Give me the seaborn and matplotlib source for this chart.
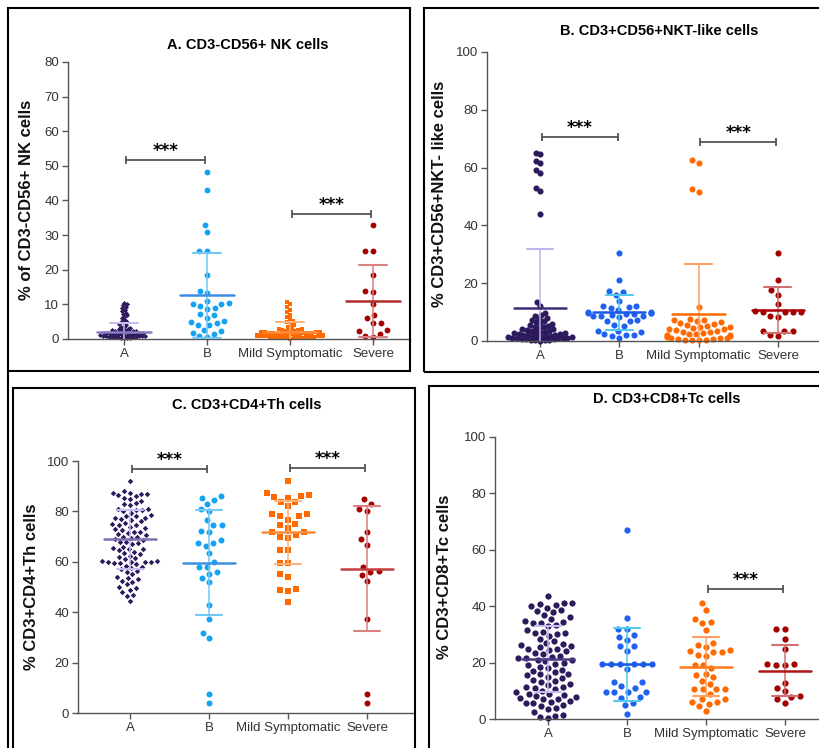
import warnings
warnings.filterwarnings("ignore")
import matplotlib
matplotlib.use("Agg")
import matplotlib.pyplot as plt
import seaborn as sns
from matplotlib.patches import Rectangle
from matplotlib.lines import Line2D
from matplotlib.markers import MarkerStyle
from matplotlib.transforms import Affine2D

sns.set_theme(style="ticks")
plt.rcParams['font.family'] = ['Liberation Sans', 'DejaVu Sans']

categories = ["A", "B", "Mild Symptomatic", "Severe"]

# ---------------- Panel A: CD3-CD56+ NK cells ----------------
nk_A = [10.5, 10.1, 9.7, 9.3, 8.9, 8.5, 8.0, 7.6, 7.2, 6.8, 6.4, 6.0, 5.6, 5.2, 4.8, 4.5,
        4.2, 3.9, 3.6, 3.4, 3.2, 3.0, 2.8, 2.7, 2.6, 2.5, 2.4, 2.3, 2.2, 2.1, 2.0, 2.0,
        1.9, 1.8, 1.8, 1.7, 1.6, 1.6, 1.5, 1.5, 1.4, 1.4, 1.3, 1.3, 1.2, 1.2, 1.1, 1.1,
        1.0, 1.0, 0.9, 0.9, 0.8, 0.8, 0.7, 0.7, 0.6, 0.6, 0.5, 0.5, 0.4, 0.4, 0.3, 0.2]
nk_B = [48.3, 42.9, 33.0, 31.0, 25.5, 25.5, 18.5, 14.0, 13.4, 11.0, 10.5, 10.2, 10.0,
        9.6, 9.0, 8.8, 7.2, 6.8, 6.0, 5.2, 4.8, 4.5, 4.0, 4.0, 2.5, 2.2, 1.8, 1.5, 0.8, 0.6]
nk_mild = [10.6, 10.0, 9.2, 8.5, 7.8, 7.0, 6.4, 5.8, 5.2, 4.8, 4.4, 4.0, 3.6, 3.2, 3.0,
           2.8, 2.6, 2.5, 2.4, 2.3, 2.2, 2.1, 2.0, 2.0, 1.9, 1.8, 1.8, 1.7, 1.6, 1.6,
           1.5, 1.5, 1.4, 1.4, 1.3, 1.3, 1.2, 1.2, 1.1, 1.1, 1.0, 1.0, 1.0, 0.9, 0.9,
           0.8, 0.8, 0.8, 0.7, 0.7, 0.6, 0.6, 0.5, 0.5, 0.4, 0.4, 0.3, 0.3, 0.2, 0.1]
nk_severe = [33.0, 25.5, 25.5, 18.5, 14.0, 13.5, 10.2, 7.0, 6.0, 4.5, 4.5, 2.5, 2.2,
             1.5, 0.8, 0.6]
nk_mean = [2.1, 12.6, 2.0, 10.9]
nk_sd = [2.5, 12.2, 2.8, 10.4]
nk_sig = [(0, 1, 51.8), (2, 3, 36.1)]

# ---------------- Panel B: CD3+CD56+NKT-like cells ----------------
nkt_A = [65.2, 64.7, 62.4, 61.5, 59.0, 58.1, 52.8, 52.0, 43.9, 13.4, 12.2, 9.6, 9.0, 8.5,
         8.0, 7.6, 7.2, 6.8, 6.5, 6.1, 5.8, 5.5, 5.2, 5.0, 4.7, 4.5, 4.2, 4.0, 3.8, 3.6,
         3.4, 3.2, 3.0, 3.0, 2.8, 2.6, 2.5, 2.4, 2.2, 2.1, 2.0, 1.9, 1.8, 1.7, 1.6, 1.5,
         1.4, 1.3, 1.2, 1.1, 1.0, 1.0, 0.9, 0.8, 0.7, 0.6, 0.5, 0.4, 0.3, 0.2, 0.1]
nkt_B = [30.5, 21.0, 17.3, 17.0, 16.0, 13.7, 12.2, 12.0, 11.8, 11.5, 10.8, 10.0, 9.9,
         9.8, 9.7, 9.6, 9.5, 9.4, 9.0, 8.8, 8.7, 8.5, 8.3, 7.2, 7.0, 6.8, 5.6, 5.2, 3.6,
         3.5, 3.2, 2.3, 2.2, 2.0, 1.8, 1.0]
nkt_mild = [62.5, 61.5, 52.5, 51.5, 11.8, 7.6, 7.4, 7.2, 7.0, 6.5, 6.2, 5.8, 5.5, 5.2,
            5.0, 4.8, 4.5, 4.2, 4.0, 3.8, 3.5, 3.2, 3.0, 2.8, 2.5, 2.4, 2.2, 2.0, 1.8,
            1.6, 1.4, 1.2, 1.0, 0.9, 0.8, 0.6, 0.5, 0.4, 0.3, 0.2]
nkt_severe = [30.5, 21.0, 17.5, 16.0, 12.8, 10.3, 10.2, 10.0, 10.1, 9.9, 8.5, 8.3, 3.6,
              3.5, 3.3, 2.2, 1.6]
nkt_mean = [11.3, 9.9, 9.4, 10.8]
nkt_sd = [20.5, 6.1, 17.3, 8.0]
nkt_sig = [(0, 1, 70.5), (2, 3, 69.0)]

# ---------------- Panel C: CD3+CD4+Th cells ----------------
th_A = [92.2, 88.0, 87.5, 87.5, 87.0, 87.0, 86.5, 86.0, 85.5, 85.0, 84.0, 83.5, 83.0,
        82.5, 81.0, 81.0, 80.5, 80.5, 80.0, 79.5, 78.5, 78.0, 78.0, 77.5, 77.5, 77.0,
        76.5, 76.0, 75.5, 75.0, 74.5, 74.5, 74.0, 73.5, 73.0, 72.5, 72.0, 72.0, 71.5,
        71.0, 70.5, 70.0, 70.0, 69.5, 69.0, 68.5, 68.0, 68.0, 67.5, 67.0, 66.0, 65.5,
        65.0, 65.0, 64.5, 64.0, 63.5, 63.0, 62.5, 62.0, 61.5, 61.0, 60.5, 60.5, 60.0,
        60.0, 60.0, 60.0, 59.5, 59.5, 59.0, 58.5, 58.0, 57.5, 57.0, 56.5, 56.0, 55.0,
        54.0, 53.5, 53.0, 52.5, 52.0, 51.0, 50.0, 49.5, 49.0, 48.0, 47.0, 46.5, 44.5]
th_B = [86.1, 85.3, 84.5, 83.0, 80.9, 80.0, 76.7, 74.6, 74.6, 72.2, 72.0, 68.5, 67.4,
        67.4, 66.4, 63.6, 59.9, 58.1, 58.1, 55.8, 55.1, 53.5, 52.0, 42.9, 37.2, 31.7,
        29.7, 7.5, 4.1]
th_mild = [92.2, 87.3, 86.4, 86.0, 85.7, 85.5, 83.7, 83.7, 82.0, 79.1, 79.1, 78.0, 78.0,
           76.7, 75.1, 74.6, 73.5, 71.7, 72.0, 70.6, 70.0, 69.5, 64.8, 64.8, 59.6, 59.6,
           55.2, 53.8, 49.3, 48.5, 49.0, 44.0]
th_severe = [84.9, 82.9, 80.0, 80.9, 71.8, 69.0, 66.5, 58.1, 56.4, 54.8, 55.9, 52.2,
             37.2, 7.5, 4.1]
th_mean = [68.9, 59.6, 71.7, 57.2]
th_sd = [11.6, 20.8, 12.6, 24.8]
th_sig = [(0, 1, 96.8), (2, 3, 97.4)]

# ---------------- Panel D: CD3+CD8+Tc cells ----------------
tc_A = [43.5, 41.2, 41.0, 40.8, 40.5, 40.0, 39.5, 38.5, 38.2, 38.0, 37.0, 36.0, 35.5,
        34.8, 34.5, 34.2, 34.0, 33.5, 33.0, 31.5, 31.0, 30.5, 30.5, 30.0, 29.5, 28.5,
        27.5, 27.0, 26.5, 26.2, 26.0, 25.5, 25.0, 25.0, 24.5, 24.0, 23.5, 23.0, 22.5,
        22.0, 21.5, 21.5, 21.0, 21.0, 20.5, 20.0, 19.5, 19.0, 18.5, 18.0, 17.5, 17.0,
        16.5, 16.0, 15.8, 15.5, 15.0, 14.5, 14.0, 13.5, 13.0, 12.5, 12.0, 11.5, 11.5,
        11.0, 10.5, 10.0, 9.5, 9.0, 8.8, 8.5, 8.0, 7.8, 7.5, 7.2, 7.0, 6.5, 6.0, 5.8,
        5.5, 5.0, 4.5, 4.0, 3.5, 2.5, 1.5, 1.2, 0.8, 0.2]
tc_B = [67.1, 35.7, 32.0, 32.0, 29.8, 29.0, 27.9, 25.9, 25.9, 24.0, 19.4, 19.4, 19.4,
        19.4, 19.4, 19.4, 17.7, 13.1, 13.1, 11.6, 11.1, 9.7, 9.7, 9.5, 9.5, 7.8, 7.5,
        5.7, 4.8, 1.9]
tc_mild = [41.1, 38.5, 35.6, 34.0, 34.5, 31.4, 26.2, 27.0, 25.5, 24.1, 24.6, 22.3, 23.8,
           23.8, 22.6, 19.0, 19.0, 18.2, 16.1, 15.6, 14.9, 13.4, 12.3, 10.5, 10.5, 10.5,
           10.5, 8.7, 7.2, 7.2, 6.1, 6.1, 5.4, 4.5, 2.7]
tc_severe = [32.0, 32.0, 28.5, 24.8, 19.3, 19.6, 19.3, 19.6, 12.9, 11.1, 9.9, 7.8, 8.0,
             7.0, 5.7]
tc_mean = [21.3, 19.4, 18.6, 17.1]
tc_sd = [11.6, 13.0, 10.5, 9.1]
tc_sig = [(2, 3, 46.2)]

titles = ["A. CD3-CD56+ NK cells", "B. CD3+CD56+NKT-like cells",
          "C. CD3+CD4+Th cells", "D. CD3+CD8+Tc cells"]
ylabels = ["% of CD3-CD56+ NK cells", "% CD3+CD56+NKT- like cells",
           "% CD3+CD4+Th cells", "% CD3+CD8+Tc cells"]

# ---------------- styling ----------------
W, H = 820, 748
fig = plt.figure(figsize=(W / 100, H / 100), dpi=100)
fig.patch.set_facecolor("white")

purple = "#2c1a5c"
sky = "#14a2f2"
royal = "#1f62f0"
orange = "#ff6a00"
darkred = "#a30000"


def add_axes_px(l, t, r, b):
    return fig.add_axes([l / W, 1 - b / H, (r - l) / W, (b - t) / H])


def draw_panel(ax, groups, colors, markers, sizes, spreads, means, sds, mean_cols,
               sd_cols, ylim, yticks, xlim, sigs):
    for i, (cat, vals) in enumerate(zip(categories, groups)):
        # swarm spacing uses size*spread; the drawn glyph is rescaled by 1/spread
        mk = MarkerStyle(markers[i], transform=Affine2D().scale(1.0 / spreads[i]))
        sns.swarmplot(x=[cat] * len(vals), y=vals, order=categories, color=colors[i],
                      marker=mk, size=sizes[i] * spreads[i], linewidth=0, ax=ax,
                      zorder=2)
    for coll in ax.collections:
        coll.set_clip_on(False)
    for i in range(4):
        m, s = means[i], sds[i]
        ax.plot([i, i], [max(m - s, 0), m + s], color=sd_cols[i], lw=1.1, zorder=3)
        ax.plot([i - 0.17, i + 0.17], [m + s] * 2, color=sd_cols[i], lw=1.5, zorder=3)
        if m - s > 0:
            ax.plot([i - 0.17, i + 0.17], [m - s] * 2, color=sd_cols[i], lw=1.5, zorder=3)
        ax.plot([i - 0.33, i + 0.33], [m, m], color=mean_cols[i], lw=1.8, zorder=4)
    for (i, j, y) in sigs:
        ax.plot([i + 0.02, j - 0.02], [y, y], color="#555555", lw=1.3, marker="|",
                markersize=6, markeredgewidth=1.3, clip_on=False, zorder=5)
        ax.annotate("***", xy=((i + j) / 2, y), xytext=(0, 6.5),
                    textcoords="offset points", ha="center", va="center",
                    fontsize=12, fontweight="bold", family="DejaVu Sans",
                    color="black", annotation_clip=False)
    ax.set_xlim(xlim)
    ax.set_ylim(ylim)
    ax.set_yticks(yticks)
    ax.set_xlabel("")
    ax.set_ylabel("")
    for sp in ["top", "right"]:
        ax.spines[sp].set_visible(False)
    for sp in ["left", "bottom"]:
        ax.spines[sp].set_color("#555555")
        ax.spines[sp].set_linewidth(1.0)
    ax.tick_params(axis="both", direction="out", length=4, width=1, color="#555555",
                   labelsize=9.5, labelcolor="#333333", pad=2.5)
    ax.set_facecolor("none")


# Panel A
axA = add_axes_px(68, 62, 410, 339)
draw_panel(axA, [nk_A, nk_B, nk_mild, nk_severe],
           [purple, sky, orange, darkred], ["D", "o", "s", "o"], [2.6, 4.2, 3.4, 4.2],
           [0.8, 1.25, 0.8, 1.3],
           nk_mean, nk_sd,
           ["#8a7cc0", "#3f8fe0", "#ff8a3a", "#b52a2a"],
           ["#c7bdf0", "#72c8f5", "#ffb27a", "#d98080"],
           (0, 80), range(0, 81, 10), (-0.675, 3.446), nk_sig)

# Panel B
axB = add_axes_px(487, 52, 818, 341)
draw_panel(axB, [nkt_A, nkt_B, nkt_mild, nkt_severe],
           [purple, royal, orange, darkred], ["o", "o", "o", "o"], [4.4, 4.4, 4.4, 4.4],
           [0.72, 1.2, 1.1, 1.3],
           nkt_mean, nkt_sd,
           ["#3d2d72", "#1a58e6", "#ff6a00", "#a80000"],
           ["#c0b4ec", "#55c8f0", "#ffa060", "#d07070"],
           (0, 100), range(0, 101, 20), (-0.668, 3.505), nkt_sig)

# Panel C
axC = add_axes_px(78, 461, 413, 713)
draw_panel(axC, [th_A, th_B, th_mild, th_severe],
           [purple, sky, orange, darkred], ["D", "o", "s", "o"], [2.8, 4.3, 4.0, 4.3],
           [1.5, 1.3, 1.45, 1.4],
           th_mean, th_sd,
           ["#7e70b4", "#3f8fe0", "#ff8a3a", "#c04040"],
           ["#c7bdf0", "#72c8f5", "#ffb27a", "#d98080"],
           (0, 100), range(0, 101, 20), (-0.658, 3.582), th_sig)

# Panel D
axD = add_axes_px(495, 437, 818, 719)
draw_panel(axD, [tc_A, tc_B, tc_mild, tc_severe],
           [purple, royal, orange, darkred], ["o", "o", "o", "o"], [4.5, 4.5, 4.5, 4.5],
           [1.2, 1.35, 1.3, 1.35],
           tc_mean, tc_sd,
           ["#4a3a82", "#1a58e6", "#ff7a1a", "#b01515"],
           ["#c7bdf0", "#55c8f0", "#ffa060", "#d07070"],
           (0, 100), range(0, 101, 20), (-0.671, 3.418), tc_sig)

# Titles and y labels (pixel positions)
title_pos = [(248, 45), (659, 31), (247, 405), (667, 399)]
ylabel_pos = [(27, 200), (440, 194), (32, 587), (445, 577)]
for (x, y), t in zip(title_pos, titles):
    fig.text(x / W, 1 - y / H, t, ha="center", va="center", fontsize=10.5,
             fontweight="bold", color="black")
for (x, y), t in zip(ylabel_pos, ylabels):
    fig.text(x / W, 1 - y / H, t, ha="center", va="center", fontsize=12,
             fontweight="bold", rotation=90, color="#111111")


# Panel frames
def box_px(l, t, r, b):
    fig.patches.append(Rectangle((l / W, 1 - b / H), (r - l) / W, (b - t) / H,
                                 transform=fig.transFigure, fill=False,
                                 edgecolor="black", lw=1.5, zorder=10))


box_px(8, 8, 410, 371)
box_px(424, 8, 822, 372)
box_px(13, 388, 415, 750)
box_px(429, 386, 822, 750)
fig.lines.append(Line2D([8 / W, 8 / W], [1 - 371 / H, 0], transform=fig.transFigure,
                        color="black", lw=1.5))

fig.savefig("out.png", dpi=100, facecolor="white")
